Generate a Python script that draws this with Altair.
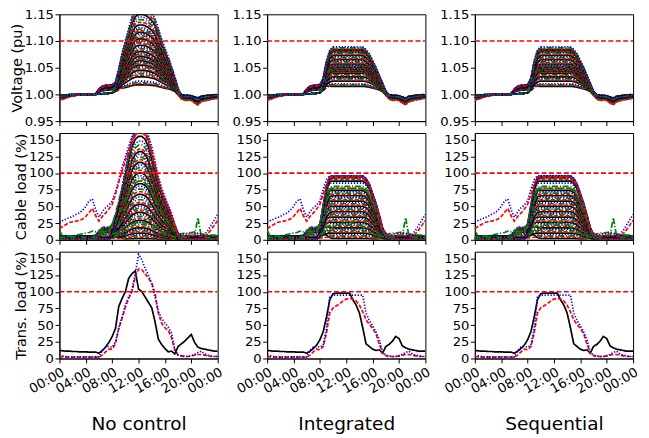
import altair as alt
import pandas as pd

alt.data_transformers.disable_max_rows()

# ---------------- axes / labels ----------------
HOURS = [0.0, 0.5, 1.0, 1.5, 2.0, 2.5, 3.0, 3.5, 4.0, 4.5, 5.0, 5.5, 6.0, 6.5, 7.0, 7.5,
         8.0, 8.5, 9.0, 9.5, 10.0, 10.5, 11.0, 11.5, 12.0, 12.5, 13.0, 13.5, 14.0, 14.5,
         15.0, 15.5, 16.0, 16.5, 17.0, 17.5, 18.0, 18.5, 19.0, 19.5, 20.0, 20.5, 21.0,
         21.5, 22.0, 22.5, 23.0, 23.5, 24.0]
TICK_HOURS = [0, 4, 8, 12, 16, 20, 24]
V_TICKS = [0.95, 1.0, 1.05, 1.1, 1.15]
L_TICKS = [0, 25, 50, 75, 100, 125, 150]
COL_TITLES = ["No control", "Integrated", "Sequential"]
ROW_TITLES = ["Voltage (pu)", "Cable load (%)", "Trans. load (%)"]
V_LIMIT = 1.10
L_LIMIT = 100
STYLE_CYCLE = ["k", "r", "g", "b"]

# ---------------- voltage profiles (per half hour) ----------------
V_BASE = [0.999, 0.999, 0.999, 1.0, 1.0, 1.0, 1.0, 1.0, 1.0, 1.0, 1.0, 1.0,
          1.001, 1.001, 1.002, 1.002, 1.003, 1.004,
          1.005, 1.005, 1.005, 1.005, 1.005, 1.005, 1.005, 1.005, 1.005, 1.005, 1.005,
          1.005, 1.005, 1.005, 1.005, 1.005, 1.005,
          1.004, 1.002, 1.0, 0.999, 0.999, 0.998, 0.996, 0.994, 0.997, 0.998, 0.999,
          0.999, 1.0, 1.0]
V_NIGHT_SHAPE = [1.0, 0.8, 0.6, 0.45, 0.3, 0.2, 0.1, 0.05,
                 0, 0, 0, 0, 0, 0, 0, 0, 0, 0, 0, 0, 0, 0, 0, 0, 0, 0, 0, 0, 0, 0, 0, 0, 0, 0,
                 0.1, 0.3, 0.6, 0.9, 1.0, 1.0, 1.0, 1.2, 1.4, 1.1, 1.0, 1.0, 0.9, 0.8, 0.8]
BUMP_SHAPE = [0, 0, 0, 0, 0, 0, 0, 0, 0, 0, 0,
              0.1, 0.6, 0.95, 1.0, 1.0, 1.0, 0.75, 0.35, 0.1,
              0, 0, 0, 0, 0, 0, 0, 0, 0, 0, 0, 0, 0, 0, 0, 0, 0, 0, 0, 0, 0, 0, 0, 0, 0,
              0, 0, 0, 0]
V_DAY_NC = [0, 0, 0, 0, 0, 0, 0, 0, 0, 0, 0, 0, 0, 0, 0, 0, 0,
            0.06, 0.25, 0.45, 0.6, 0.74, 0.88, 0.97, 1.0, 1.0, 0.99, 0.96, 0.92, 0.86,
            0.74, 0.62, 0.51, 0.41, 0.3, 0.19, 0.07,
            0, 0, 0, 0, 0, 0, 0, 0, 0, 0, 0, 0]
V_DAY_CTRL = [0, 0, 0, 0, 0, 0, 0, 0, 0, 0, 0, 0, 0, 0, 0, 0, 0,
              0.2, 0.65, 0.93, 1.0, 1.0, 1.0, 1.0, 1.0, 1.0, 1.0, 1.0, 1.0, 1.0,
              0.95, 0.85, 0.7, 0.55, 0.38, 0.22, 0.06,
              0, 0, 0, 0, 0, 0, 0, 0, 0, 0, 0, 0]
V_AMP_NC = [0.013, 0.015, 0.017, 0.02, 0.028, 0.031, 0.034, 0.037, 0.04, 0.043, 0.046, 0.048,
            0.05, 0.052, 0.054, 0.056, 0.058, 0.06, 0.062, 0.064, 0.066, 0.068, 0.07, 0.072,
            0.075, 0.078, 0.081, 0.084, 0.087, 0.09, 0.093, 0.096, 0.099, 0.102, 0.105, 0.108,
            0.111, 0.114, 0.117, 0.12, 0.125, 0.13, 0.135, 0.14, 0.145, 0.15, 0.155, 0.16]
V_AMP_CTRL = [0.01, 0.012, 0.013, 0.015, 0.02, 0.022, 0.024, 0.026, 0.028, 0.03, 0.032, 0.034,
              0.035, 0.036, 0.037, 0.038, 0.039, 0.04, 0.041, 0.042, 0.043, 0.044, 0.045, 0.046,
              0.047, 0.048, 0.049, 0.05, 0.052, 0.054, 0.056, 0.058, 0.06, 0.062, 0.064, 0.066,
              0.068, 0.07, 0.072, 0.074, 0.075, 0.076, 0.077, 0.078, 0.079, 0.08, 0.082, 0.084]
V_NIGHT_OFF = [-0.002, -0.006, -0.001, -0.004, -0.008, -0.003, -0.005, 0.0, -0.007, -0.002, -0.009, -0.004,
               -0.001, -0.006, -0.003, -0.008, -0.005, -0.002, -0.01, -0.004, -0.006, -0.001, -0.007, -0.003,
               -0.005, -0.002, -0.008, -0.004, -0.006, -0.001, -0.009, -0.003, -0.005, -0.007, -0.002, -0.004,
               -0.006, -0.008, -0.003, -0.005, -0.001, -0.007, -0.004, -0.002, -0.006, -0.009, -0.003, -0.005]
V_BUMP_AMT = [0.012, 0.0, 0.008, 0.014, 0.0, 0.01, 0.013, 0.0, 0.006, 0.012, 0.015, 0.0,
              0.009, 0.0, 0.013, 0.011, 0.0, 0.014, 0.007, 0.0, 0.012, 0.01, 0.0, 0.014,
              0.008, 0.015, 0.0, 0.011, 0.013, 0.0, 0.009, 0.015, 0.0, 0.012, 0.01, 0.006,
              0.0, 0.014, 0.011, 0.0, 0.015, 0.008, 0.013, 0.0, 0.01, 0.014, 0.0, 0.012]

# ---------------- cable load profiles ----------------
C_BASE = [0.0] * len(HOURS)
C_NIGHT_SHAPE = [1.0, 1.0, 1.0, 1.0, 1.0, 1.0, 1.0, 1.0, 1.0, 1.0, 1.0, 1.0, 1.0, 1.0, 1.0,
                 0.9, 0.7, 0.45, 0.2, 0.05,
                 0, 0, 0, 0, 0, 0, 0, 0, 0, 0, 0, 0, 0, 0,
                 0.2, 0.5, 0.85, 1.0,
                 1.0, 1.0, 1.0, 1.0, 1.0, 1.0, 1.0, 1.0, 1.0, 1.0, 1.0]
C_DAY_NC = [0, 0, 0, 0, 0, 0, 0, 0, 0, 0, 0, 0, 0, 0, 0, 0,
            0.06, 0.18, 0.32, 0.46, 0.62, 0.77, 0.9, 0.97, 1.0, 1.0, 0.97, 0.9, 0.78, 0.66,
            0.53, 0.43, 0.36, 0.29, 0.21, 0.12, 0.04,
            0, 0, 0, 0, 0, 0, 0, 0, 0, 0, 0, 0]
C_DAY_CTRL = [0, 0, 0, 0, 0, 0, 0, 0, 0, 0, 0, 0, 0, 0, 0, 0,
              0.1, 0.45, 0.8, 0.98, 1.0, 1.0, 1.0, 1.0, 1.0, 1.0, 1.0, 1.0, 1.0, 1.0,
              0.96, 0.87, 0.72, 0.57, 0.38, 0.17, 0.05,
              0, 0, 0, 0, 0, 0, 0, 0, 0, 0, 0, 0]
C_AMP_NC = [2, 4, 6, 8, 10, 12, 14, 16, 18, 20, 23, 26, 29, 32, 35, 38, 41, 44, 47, 50, 53, 56,
            60, 64, 68, 72, 76, 80, 84, 88, 92, 96, 100, 104, 108, 112, 116, 120, 124, 128, 132,
            136, 142, 148, 155, 161, 166, 170]
C_AMP_CTRL = [2, 4, 6, 8, 10, 12, 14, 16, 18, 20, 22, 24, 26, 28, 30, 32, 34, 36, 38, 40, 42, 44,
              46, 48, 50, 52, 54, 56, 58, 60, 62, 64, 66, 68, 70, 72, 74, 77, 80, 85, 88, 91, 92,
              93, 94, 95, 95, 96]
C_NIGHT_LVL = [5, 3, 0, 2, 5, 1, 2, 4, 0, 3, 1, 2, 6, 0, 2, 1, 3, 4, 1, 0, 2, 5, 1, 3,
               0, 2, 4, 1, 2, 3, 0, 6, 1, 2, 4, 0, 3, 1, 2, 5, 0, 1, 3, 2, 4, 1, 0, 2]
C_BUMP_AMT = [12, 0, 9, 14, 0, 11, 8, 0, 13, 10, 0, 12, 9, 14, 0, 11, 10, 0, 13, 8, 0, 14, 10, 0,
              12, 9, 0, 13, 11, 0, 10, 13, 0, 11, 14, 0, 9, 12, 0, 11, 13, 0, 10, 12, 0, 11, 13, 0]

C_SPEC_BLUE_NC = [26, 29, 31, 33, 35, 38, 40, 44, 50, 58, 61, 45, 34, 42, 48, 52, 58, 72, 90, 108,
                  124, 140, 154, 162, 166, 166, 163, 156, 140, 118, 95, 78, 64, 52, 40, 24, 10, 8,
                  8, 9, 9, 10, 9, 8, 8, 14, 22, 30, 38]
C_SPEC_RED_NC = [17, 20, 23, 26, 27, 28, 29, 31, 35, 41, 47, 36, 28, 35, 40, 46, 53, 68, 86, 103,
                 119, 134, 148, 157, 161, 161, 158, 150, 134, 113, 90, 74, 61, 49, 37, 21, 8, 6,
                 6, 6, 7, 7, 6, 5, 5, 9, 15, 22, 29]
C_SPEC_GREEN_NC = [14, 5, 5, 6, 6, 7, 8, 9, 10, 11, 13, 12, 13, 14, 15, 16, 18, 26, 36, 48,
                   60, 72, 80, 85, 88, 88, 85, 80, 72, 62, 48, 40, 33, 27, 20, 12, 8, 9,
                   10, 10, 11, 12, 10, 9, 8, 8, 7, 7, 6]
C_SPEC_BLUE_CTRL = [26, 29, 31, 33, 35, 38, 40, 44, 50, 58, 61, 45, 34, 42, 48, 52, 58, 76, 90, 96,
                    96, 96, 96, 96, 96, 96, 96, 96, 96, 96, 92, 84, 70, 55, 38, 18, 10, 8,
                    8, 9, 9, 10, 9, 8, 8, 14, 22, 30, 38]
C_SPEC_RED_CTRL = [17, 20, 23, 26, 27, 28, 29, 31, 35, 41, 47, 36, 28, 35, 40, 46, 53, 68, 84, 94,
                   94, 94, 94, 94, 94, 94, 94, 94, 94, 94, 90, 82, 68, 53, 36, 16, 8, 6,
                   6, 6, 7, 7, 6, 5, 5, 9, 15, 22, 29]
C_SPEC_GREEN_CTRL = [14, 5, 5, 6, 6, 7, 8, 9, 10, 11, 13, 12, 13, 14, 15, 16, 18, 30, 55, 74,
                     77, 77, 77, 77, 77, 77, 77, 77, 77, 77, 73, 66, 55, 43, 29, 13, 8, 9,
                     10, 10, 11, 12, 10, 9, 8, 8, 7, 7, 6]
C_SPIKE = [4, 4, 4, 4, 4, 4, 4, 4, 4, 4, 4, 4, 4, 5, 6, 7, 8, 10, 13, 16,
           19, 22, 24, 25, 26, 26, 25, 24, 22, 19, 15, 12, 10, 8, 6, 5, 4, 4,
           4, 4, 5, 7, 33, 6, 4, 4, 4, 4, 4]

# ---------------- transformer load ----------------
TR_NC_K = [12, 11.5, 11, 11, 10.5, 10.5, 10, 10, 10, 9.5, 9.5, 9.5, 8, 12, 17, 24, 33, 45, 78, 90,
           100, 120, 127, 131, 104, 100, 92, 84, 76, 55, 29, 21, 15, 10, 11, 7, 18, 22, 26, 31,
           36, 24, 17, 15, 14, 13, 12, 11, 11]
TR_NC_R = [3, 2.5, 2, 2, 2, 2, 2, 2, 2, 2, 2, 2, 2, 5, 10, 14, 14, 22, 45, 60,
           77, 90, 100, 122, 134, 133, 127, 120, 113, 98, 68, 53, 46, 42, 31, 12, 5, 4, 3, 3,
           4, 5, 6, 6, 5, 4, 3, 3, 3]
TR_NC_B = [5, 4, 3, 2.5, 2.5, 2.5, 2.5, 2.5, 2.5, 2.5, 2.5, 2.5, 2.5, 12, 17, 18, 17, 25, 46, 62,
           80, 92, 103, 127, 156, 148, 135, 125, 112, 92, 70, 60, 53, 47, 38, 14, 5, 4, 3, 3,
           4, 6, 9, 11, 7, 5, 4, 3, 3]
TR_CTRL_K = [12, 11.5, 11, 11, 10.5, 10.5, 10, 10, 10, 9.5, 9.5, 9.5, 8, 11, 15, 20, 28, 40, 62, 88,
             97, 98, 98, 98, 98, 98, 88, 80, 68, 46, 22, 18, 14, 12, 13, 8, 18, 21, 26, 33,
             30, 19, 16, 14, 13, 12, 11, 11, 11]
TR_CTRL_R = [3, 2.5, 2, 2, 2, 2, 2, 2, 2, 2, 2, 2, 2, 5, 10, 14, 13, 18, 38, 68,
             76, 79, 82, 86, 89, 90, 89, 86, 80, 70, 58, 51, 45, 37, 22, 8, 4, 3, 3, 3,
             4, 5, 6, 6, 5, 4, 3, 3, 3]
TR_CTRL_B = [5, 4, 3, 2.5, 2.5, 2.5, 2.5, 2.5, 2.5, 2.5, 2.5, 2.5, 2.5, 12, 17, 18, 17, 20, 45, 93,
             95, 95, 95, 95, 95, 95, 95, 95, 95, 95, 68, 57, 49, 40, 28, 10, 5, 4, 3, 3,
             4, 6, 9, 11, 7, 5, 4, 3, 3]

# ---------------- styling ----------------
STYLE_DOMAIN = ["r", "g", "b", "k", "lim"]
STYLE_COLORS = ["#ff0000", "#008000", "#0000ff", "#000000", "#ff0000"]
STYLE_DASHES = [[4, 1.8], [6, 1.8, 1.2, 1.8], [1.3, 1.7], [1, 0], [5, 2.5]]
STYLE_WIDTHS = [1.7, 1.7, 1.6, 1.5, 1.2]
TRANS_WIDTHS = [1.5, 1.5, 1.6, 1.4, 1.2]
FONT = "DejaVu Sans"
PW, PH = 160, 108


def limit_rows(limit):
    return [(HOURS[0], limit, "LIMIT", "lim"), (HOURS[-1], limit, "LIMIT", "lim")]


def band_frame(amps, day, base, night_off, night_shape, bump_amt, specials, limit):
    rows = []
    for i, amp in enumerate(amps):
        style = STYLE_CYCLE[i % 4]
        for j, t in enumerate(HOURS):
            v = (base[j] + amp * day[j] + night_off[i] * night_shape[j]
                 + bump_amt[i] * BUMP_SHAPE[j])
            rows.append((t, v, f"L{i:02d}", style))
    for name, style, vals in specials:
        for j, t in enumerate(HOURS):
            rows.append((t, vals[j], name, style))
    rows += limit_rows(limit)
    return pd.DataFrame(rows, columns=["t", "v", "line", "s"])


def trans_frame(k, r, b, limit):
    rows = []
    for name, style, vals in [("k", "k", k), ("r", "r", r), ("b", "b", b)]:
        for j, t in enumerate(HOURS):
            rows.append((t, vals[j], name, style))
    rows += limit_rows(limit)
    return pd.DataFrame(rows, columns=["t", "v", "line", "s"])


def panel(df, row, col):
    bottom = row == 2
    x_axis_kw = dict(values=TICK_HOURS, labels=bottom, labelOverlap=False,
                     labelExpr="(datum.value % 24 < 10 ? '0' : '') + (datum.value % 24) + ':00'",
                     labelAngle=330, labelAlign="right", labelBaseline="top", labelPadding=2)
    if bottom:
        x_axis = alt.Axis(title=COL_TITLES[col], titleFontSize=18.7, titlePadding=20, **x_axis_kw)
    else:
        x_axis = alt.Axis(title=None, **x_axis_kw)
    if row == 0:
        yscale = alt.Scale(domain=[0.95, 1.15], nice=False, zero=False)
        yaxis_kw = dict(values=V_TICKS, format=".2f", labelOverlap=False)
    else:
        yscale = alt.Scale(domain=[0, 160], nice=False, zero=False)
        yaxis_kw = dict(values=L_TICKS, format="d", labelOverlap=False)
    if col == 0:
        y_axis = alt.Axis(title=ROW_TITLES[row], **yaxis_kw)
    else:
        y_axis = alt.Axis(title=None, **yaxis_kw)
    widths = TRANS_WIDTHS if bottom else STYLE_WIDTHS

    return alt.Chart(df).mark_line(clip=True).encode(
        x=alt.X("t:Q", scale=alt.Scale(domain=[0, 24], nice=False, zero=False), axis=x_axis),
        y=alt.Y("v:Q", scale=yscale, axis=y_axis),
        color=alt.Color("s:N", scale=alt.Scale(domain=STYLE_DOMAIN, range=STYLE_COLORS), legend=None),
        strokeDash=alt.StrokeDash("s:N", scale=alt.Scale(domain=STYLE_DOMAIN, range=STYLE_DASHES),
                                  legend=None),
        strokeWidth=alt.StrokeWidth("s:N", scale=alt.Scale(domain=STYLE_DOMAIN, range=widths),
                                    legend=None),
        detail="line:N",
    ).properties(width=PW, height=PH)


v_nc = band_frame(V_AMP_NC, V_DAY_NC, V_BASE, V_NIGHT_OFF, V_NIGHT_SHAPE, V_BUMP_AMT, [], V_LIMIT)
v_ctrl = band_frame(V_AMP_CTRL, V_DAY_CTRL, V_BASE, V_NIGHT_OFF, V_NIGHT_SHAPE, V_BUMP_AMT, [], V_LIMIT)
c_nc = band_frame(C_AMP_NC, C_DAY_NC, C_BASE, C_NIGHT_LVL, C_NIGHT_SHAPE, C_BUMP_AMT,
                  [("S1", "g", C_SPEC_GREEN_NC), ("S2", "g", C_SPIKE),
                   ("S3", "b", C_SPEC_BLUE_NC), ("S4", "r", C_SPEC_RED_NC)], L_LIMIT)
c_ctrl = band_frame(C_AMP_CTRL, C_DAY_CTRL, C_BASE, C_NIGHT_LVL, C_NIGHT_SHAPE, C_BUMP_AMT,
                    [("S1", "g", C_SPEC_GREEN_CTRL), ("S2", "g", C_SPIKE),
                     ("S3", "b", C_SPEC_BLUE_CTRL), ("S4", "r", C_SPEC_RED_CTRL)], L_LIMIT)
t_nc = trans_frame(TR_NC_K, TR_NC_R, TR_NC_B, L_LIMIT)
t_ctrl = trans_frame(TR_CTRL_K, TR_CTRL_R, TR_CTRL_B, L_LIMIT)

grid = [
    [v_nc, v_ctrl, v_ctrl],
    [c_nc, c_ctrl, c_ctrl],
    [t_nc, t_ctrl, t_ctrl],
]
charts = []
for r in range(3):
    for c in range(3):
        charts.append(panel(grid[r][c], r, c))

chart = alt.concat(
    *charts, columns=3, spacing={"row": 12, "column": 50}, bounds="flush"
).properties(
    padding={"left": 0, "top": -4, "right": 0, "bottom": 0}
).configure(font=FONT).configure_axis(
    labelFont=FONT, titleFont=FONT, labelFontSize=13.3, titleFontSize=14.7,
    labelColor="black", titleColor="black", tickColor="black", domainColor="black",
    grid=False, titleFontWeight="normal", tickSize=4.5, labelPadding=1.5, titlePadding=0,
).configure_view(stroke="black", strokeWidth=1)

chart.save("out.html", embed_options={"renderer": "svg", "actions": False})
